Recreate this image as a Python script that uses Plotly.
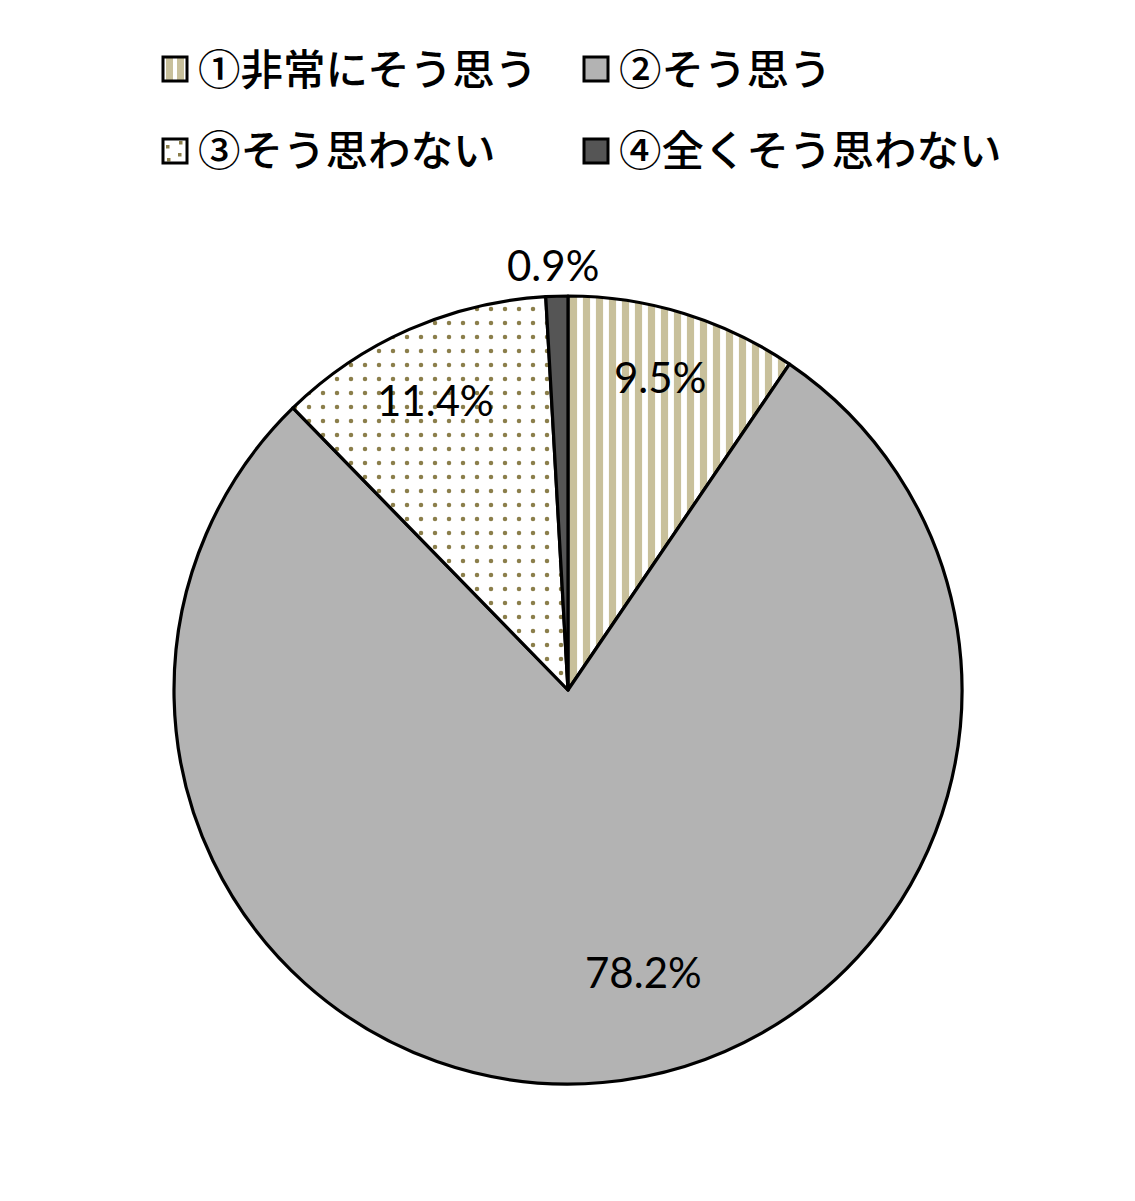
import plotly.graph_objects as go

categories = ["①非常にそう思う", "②そう思う", "③そう思わない", "④全くそう思わない"]
values = [9.5, 78.2, 11.4, 0.9]
label_texts = ["9.5%", "78.2%", "11.4%", "0.9%"]

colors = ["#FFFFFF", "#B3B3B3", "#FFFFFF", "#555555"]
pattern_shapes = ["|", "", ".", ""]
pattern_fg = ["#C8C09B", "#B3B3B3", "#8B7E4A", "#555555"]
pattern_size = [13, 8, 14, 8]
pattern_solidity = [0.55, 0.3, 0.08, 0.3]

W, H = 1135, 1201
OFF = 8  # page body margin offset
cx, cy, R = 568 - OFF, 690 - OFF, 394


def px_x(x):
    return (x - OFF) / W


def px_y(y):
    return 1 - (y - OFF) / H


fig = go.Figure()
fig.add_trace(go.Pie(
    labels=categories, values=values, sort=False, direction="clockwise",
    rotation=0,
    marker=dict(colors=colors, line=dict(color="#000000", width=3.2),
                pattern=dict(shape=pattern_shapes, fgcolor=pattern_fg,
                             bgcolor=colors, size=pattern_size, solidity=pattern_solidity,
                             fillmode="replace")),
    textinfo="none", hoverinfo="label+percent", showlegend=False,
    domain=dict(x=[(cx - R) / W, (cx + R) / W], y=[(H - cy - R) / H, (H - cy + R) / H]),
))

# data labels (layout positions, reference pixel coords)
label_pos = [(660, 377), (643, 972), (435, 400), (553, 265)]
for t, (px, py) in zip(label_texts, label_pos):
    fig.add_annotation(x=px_x(px), y=px_y(py), xref="paper", yref="paper",
                       xanchor="center", yanchor="middle",
                       text=t, showarrow=False,
                       font=dict(family="Lato, 'Noto Sans', sans-serif", size=42, color="#000"))

# manual legend (layout positions, reference pixel coords)
legend_pos = [(175, 69), (596, 69), (175, 151), (596, 151)]
half = 12
shapes = []
for i, (name, (lx, ly)) in enumerate(zip(categories, legend_pos)):
    x0, x1, y0, y1 = lx - half, lx + half, ly - half, ly + half
    shapes.append(dict(type="rect", xref="paper", yref="paper",
                       x0=px_x(x0), x1=px_x(x1), y0=px_y(y0), y1=px_y(y1),
                       fillcolor=colors[i], line=dict(width=0)))
    if pattern_shapes[i] == "|":
        for sx in (x0 + 3, x0 + 14):
            shapes.append(dict(type="rect", xref="paper", yref="paper",
                               x0=px_x(sx), x1=px_x(sx + 7), y0=px_y(y0), y1=px_y(y1),
                               fillcolor=pattern_fg[i], line=dict(width=0)))
    elif pattern_shapes[i] == ".":
        for dx, dy in ((3, 6), (16, 2), (15, 14), (4, 19)):
            shapes.append(dict(type="rect", xref="paper", yref="paper",
                               x0=px_x(x0 + dx), x1=px_x(x0 + dx + 3.5),
                               y0=px_y(y0 + dy), y1=px_y(y0 + dy + 3.5),
                               fillcolor=pattern_fg[i], line=dict(width=0)))
    shapes.append(dict(type="rect", xref="paper", yref="paper",
                       x0=px_x(x0), x1=px_x(x1), y0=px_y(y0), y1=px_y(y1),
                       fillcolor="rgba(0,0,0,0)", line=dict(color="#000000", width=3)))
    fig.add_annotation(x=px_x(lx + 21), y=px_y(ly - 3), xref="paper", yref="paper",
                       xanchor="left", yanchor="middle", text=name, showarrow=False,
                       font=dict(family="'Noto Sans CJK JP', sans-serif", size=42.5,
                                 weight=500, color="#000"))

fig.update_layout(
    width=W, height=H,
    margin=dict(l=0, r=0, t=0, b=0, autoexpand=False),
    paper_bgcolor="white", plot_bgcolor="white",
    showlegend=False,
    shapes=shapes,
)

fig.write_html("out.html")
